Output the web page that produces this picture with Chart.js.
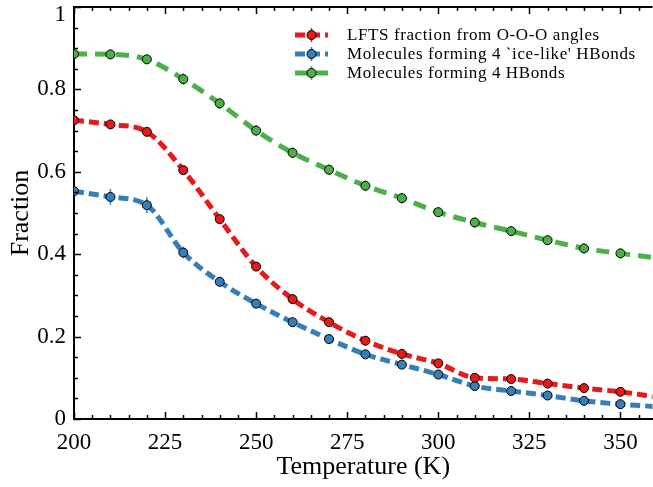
<!DOCTYPE html>
<html lang="en">
<head>
<meta charset="UTF-8">
<title>Fraction vs Temperature</title>
<style>
  html, body { margin: 0; padding: 0; background: #fff; overflow: hidden; }
  #wrap { width: 653px; height: 487px; position: relative; overflow: hidden; }
</style>
</head>
<body>
<!-- canvas is a bit wider than the page: the figure is cropped on the right -->
<div id="wrap"><canvas id="chart" width="658" height="487"></canvas></div>

<script src="https://cdn.jsdelivr.net/npm/chart.js"></script>
<script>
    // temperatures (K); the last one is only there so the curve runs past the frame
    const temps = [200, 210, 220, 230, 240, 250, 260, 270, 280, 290, 300, 310, 320, 330, 340, 350, 360];

    const lfts    = [0.725, 0.715, 0.697, 0.604, 0.485, 0.370, 0.291, 0.235, 0.190, 0.158, 0.135, 0.100, 0.097, 0.086, 0.075, 0.066, 0.053];
    const iceLike = [0.553, 0.539, 0.519, 0.404, 0.333, 0.280, 0.235, 0.194, 0.157, 0.132, 0.108, 0.080, 0.068, 0.057, 0.044, 0.036, 0.030];
    const hb4     = [0.886, 0.885, 0.873, 0.825, 0.766, 0.700, 0.646, 0.605, 0.566, 0.536, 0.502, 0.477, 0.456, 0.434, 0.414, 0.402, 0.391];

    // error bars
    const lftsErr    = [0.006, 0.006, 0.006, 0.006, 0.006, 0.006, 0.005, 0.005, 0.005, 0.005, 0.005, 0.005, 0.005, 0.005, 0.005, 0.005, 0];
    const iceLikeErr = [0.012, 0.019, 0.019, 0.014, 0.012, 0.010, 0.009, 0.008, 0.007, 0.007, 0.006, 0.006, 0.006, 0.006, 0.006, 0.006, 0];
    const hb4Err     = [0.010, 0.012, 0.012, 0.014, 0.014, 0.014, 0.013, 0.013, 0.013, 0.013, 0.012, 0.012, 0.012, 0.012, 0.012, 0.012, 0];

    const labels = [
        'LFTS fraction from O-O-O angles',
        "Molecules forming 4 `ice-like' HBonds",
        'Molecules forming 4 HBonds'
    ];

    const xTicks = [200, 225, 250, 275, 300, 325, 350];
    const yTicks = [0, 0.2, 0.4, 0.6, 0.8, 1];

    const serif = '"Liberation Serif", "Times New Roman", serif';
    const lastMarked = 350;

    function series(label, values, errs, color, dash) {
        return {
            label: label,
            data: temps.map((t, i) => ({x: t, y: values[i]})),
            errors: errs,
            borderColor: color,
            backgroundColor: color,
            borderWidth: 5,
            borderDash: dash,
            borderCapStyle: 'butt',
            cubicInterpolationMode: 'monotone',
            pointBackgroundColor: color,
            pointBorderColor: '#000',
            pointBorderWidth: 1,
            pointRadius: ctx => temps[ctx.dataIndex] > lastMarked ? 0 : 4.5,
            pointHoverRadius: 4.5
        }
    }

    // vertical error bars, behind the lines and markers
    const errorBars = {
        id: 'errorBars',
        beforeDatasetsDraw(chart) {
            const {ctx, chartArea, scales: {x, y}} = chart;
            ctx.save();
            ctx.beginPath();
            ctx.rect(chartArea.left, chartArea.top, chartArea.right - chartArea.left, chartArea.bottom - chartArea.top);
            ctx.clip();
            chart.data.datasets.forEach(ds => {
                ctx.strokeStyle = ds.borderColor;
                ctx.lineWidth = 1.5;
                ds.data.forEach((p, i) => {
                    const e = ds.errors[i];
                    if (!e) return;
                    const px = x.getPixelForValue(p.x);
                    ctx.beginPath();
                    ctx.moveTo(px, y.getPixelForValue(p.y - e));
                    ctx.lineTo(px, y.getPixelForValue(p.y + e));
                    ctx.stroke();
                });
            });
            ctx.restore();
        }
    };

    // inward ticks (major + minor), top frame line and the legend
    const frame = {
        id: 'frame',
        afterDraw(chart) {
            const {ctx, chartArea, scales: {x, y}} = chart;
            ctx.save();
            ctx.strokeStyle = '#000';
            ctx.lineWidth = 1.5;
            ctx.beginPath();
            for (let v = x.min; v <= x.max; v += 5) {
                const px = Math.round(x.getPixelForValue(v)) + 0.5;
                const len = v % 25 === 0 ? 7 : 4;
                ctx.moveTo(px, chartArea.bottom);
                ctx.lineTo(px, chartArea.bottom - len);
                ctx.moveTo(px, chartArea.top);
                ctx.lineTo(px, chartArea.top + len);
            }
            for (let k = 0; k <= 20; k++) {
                const v = k * 0.05;
                const py = Math.round(y.getPixelForValue(v)) + 0.5;
                const len = k % 4 === 0 ? 7 : 4;
                ctx.moveTo(chartArea.left, py);
                ctx.lineTo(chartArea.left + len, py);
            }
            ctx.stroke();

            ctx.lineWidth = 2;
            ctx.beginPath();
            ctx.moveTo(chartArea.left - 1, chartArea.top);
            ctx.lineTo(chartArea.right, chartArea.top);
            ctx.stroke();

            // legend
            ctx.font = '17px ' + serif;
            ctx.letterSpacing = '0.6px';
            ctx.textBaseline = 'middle';
            ctx.fillStyle = '#000';
            chart.data.datasets.forEach((ds, i) => {
                const ly = 35 + i * 19;
                ctx.strokeStyle = ds.borderColor;
                ctx.lineWidth = 5;
                ctx.setLineDash(ds.borderDash);
                ctx.beginPath();
                ctx.moveTo(295, ly);
                ctx.lineTo(328, ly);
                ctx.stroke();
                ctx.setLineDash([]);
                ctx.lineWidth = 1.5;
                ctx.beginPath();
                ctx.moveTo(311.5, ly - 7);
                ctx.lineTo(311.5, ly + 7);
                ctx.stroke();
                ctx.beginPath();
                ctx.arc(311.5, ly, 4.5, 0, Math.PI * 2);
                ctx.fillStyle = ds.pointBackgroundColor;
                ctx.fill();
                ctx.lineWidth = 1;
                ctx.strokeStyle = '#000';
                ctx.stroke();
                ctx.fillStyle = '#000';
                ctx.fillText(ds.label, 347, ly + 1);
            });
            ctx.restore();
        }
    };

    const ctx = document.getElementById('chart');
    new Chart(ctx, {
        type: 'line',
        data: {
            datasets: [
                series(labels[0], lfts, lftsErr, '#e41a1c', [10, 5]),
                series(labels[1], iceLike, iceLikeErr, '#377eb8', [10, 5]),
                series(labels[2], hb4, hb4Err, '#4daf4a', [13, 8])
            ]
        },
        options: {
            responsive: false,
            animation: false,
            layout: {padding: {top: 7, left: 0, right: 0, bottom: 0}},
            plugins: {
                legend: {display: false},
                tooltip: {enabled: false}
            },
            scales: {
                x: {
                    type: 'linear',
                    min: 200,
                    max: 358.8,
                    afterBuildTicks: s => { s.ticks = xTicks.map(v => ({value: v})); },
                    afterFit: s => { s.height = 68; s.paddingLeft = 0; s.paddingRight = 0; },
                    ticks: {
                        color: '#000',
                        padding: 12,
                        font: {family: serif, size: 23, lineHeight: 1}
                    },
                    grid: {drawOnChartArea: false, drawTicks: false},
                    border: {display: true, color: '#000', width: 2},
                    title: {
                        display: true,
                        text: 'Temperature (K)',
                        color: '#000',
                        font: {family: serif, size: 26},
                        padding: {top: 0, bottom: 4}
                    }
                },
                y: {
                    min: 0,
                    max: 1,
                    afterBuildTicks: s => { s.ticks = yTicks.map(v => ({value: v})); },
                    afterFit: s => { s.width = 74; s.paddingTop = 0; s.paddingBottom = 0; },
                    ticks: {
                        color: '#000',
                        padding: 8,
                        font: {family: serif, size: 23, lineHeight: 0.7},
                        // the top label sits just below the frame, as in the figure
                        callback: v => v === 1 ? ['', '1'] : String(+v.toFixed(2))
                    },
                    grid: {drawOnChartArea: false, drawTicks: false},
                    border: {display: true, color: '#000', width: 2},
                    title: {
                        display: true,
                        text: 'Fraction',
                        color: '#000',
                        font: {family: serif, size: 26},
                        padding: {top: 6, bottom: 0}
                    }
                }
            }
        },
        plugins: [errorBars, frame]
    });
</script>
</body>
</html>
